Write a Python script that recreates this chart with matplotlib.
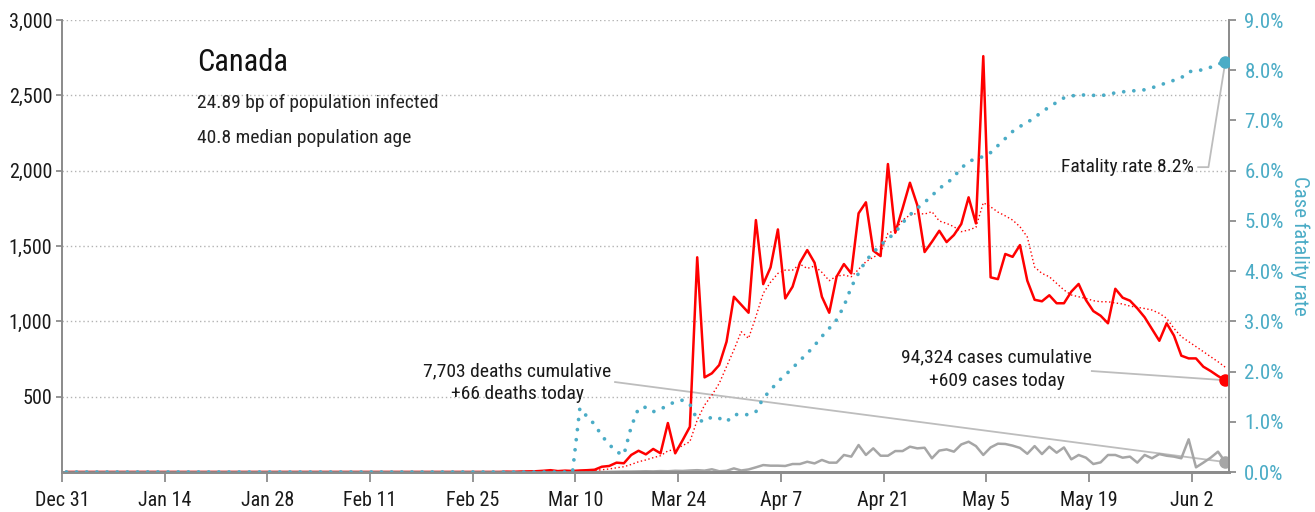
import matplotlib
matplotlib.use('Agg')
import matplotlib.pyplot as plt
from matplotlib import font_manager
import numpy as np

# ---- pick a condensed-ish font if we have one ----
names = set(font_manager.get_font_names())
FONT = 'DejaVu Sans'
for cand in ['Roboto Condensed', 'Liberation Sans Narrow', 'Open Sans Condensed',
             'Noto Sans Condensed', 'Roboto', 'Liberation Sans']:
    if cand in names:
        FONT = cand
        break
plt.rcParams['font.family'] = [FONT, 'DejaVu Sans']

# ---- data: one value per day, day 0 = Dec 31 ----
daily_cases = [0] * 60 + [2, 1, 3, 4, 5, 8, 12, 6, 9, 7] + [
    10, 12, 15, 35, 40, 62, 58, 113, 141, 117,            # d70-79
    153, 124, 325, 124, 210, 300, 1425, 628, 655, 710,    # d80-89
    865, 1163, 1110, 1057, 1672, 1247, 1358, 1610, 1152, 1230,   # d90-99
    1389, 1473, 1389, 1163, 1057, 1296, 1380, 1318, 1717, 1790,  # d100-109
    1469, 1433, 2044, 1588, 1750, 1920, 1772, 1460, 1528, 1601,  # d110-119
    1526, 1573, 1646, 1823, 1650, 2760, 1292, 1280, 1447, 1428,  # d120-129
    1506, 1270, 1143, 1133, 1173, 1120, 1120, 1197, 1248, 1141,  # d130-139
    1068, 1037, 987, 1216, 1157, 1137, 1086, 1027, 949, 871,     # d140-149
    987, 905, 772, 754, 754, 699, 670, 637, 609]                 # d150-158

cases_7day = [0] * 62 + [1, 1, 2, 2, 3, 4, 4, 5] + [
    5, 7, 10, 15, 20, 28, 35, 50, 68, 80,
    95, 108, 140, 150, 175, 201, 345, 444, 510, 588,
    700, 810, 931, 887, 1031, 1186, 1260, 1318, 1340, 1340,
    1380, 1351, 1367, 1325, 1270, 1300, 1307, 1296, 1345, 1396,
    1425, 1451, 1584, 1606, 1672, 1705, 1717, 1712, 1728, 1666,
    1650, 1628, 1595, 1606, 1624, 1787, 1760, 1725, 1700, 1672,
    1628, 1560, 1360, 1318, 1296, 1252, 1208, 1175, 1163, 1152,
    1137, 1130, 1130, 1122, 1115, 1101, 1093, 1085, 1075, 1053,
    1020, 953, 898, 865, 832, 799, 765, 732, 695]

daily_deaths = [0] * 70 + [
    1, 0, 1, 0, 1, 2, 3, 3, 4, 5,
    4, 6, 5, 8, 7, 10, 12, 9, 18, 5,
    8, 24, 10, 17, 31, 46, 42, 42, 40, 53,
    53, 68, 57, 80, 62, 62, 113, 102, 179, 113,
    157, 108, 108, 139, 139, 168, 157, 161, 91, 142,
    150, 135, 183, 201, 172, 113, 163, 188, 186, 175,
    160, 121, 172, 119, 168, 128, 163, 84, 113, 95,
    53, 64, 113, 113, 95, 102, 62, 113, 91, 119,
    108, 102, 91, 217, 31, 62, 95, 135, 66]

fatality_pct = [0] * 70 + [
    1.27, 1.10, 0.95, 0.72, 0.55, 0.40, 0.34, 0.90, 1.27, 1.29,
    1.20, 1.25, 1.33, 1.40, 1.43, 1.35, 1.04, 1.00, 1.10, 1.07,
    1.00, 1.14, 1.15, 1.14, 1.20, 1.47, 1.63, 1.80, 1.93, 2.07,
    2.22, 2.36, 2.52, 2.70, 2.86, 3.03, 3.30, 3.68, 3.96, 4.21,
    4.37, 4.52, 4.64, 4.77, 4.96, 5.12, 5.25, 5.37, 5.50, 5.65,
    5.74, 5.88, 6.05, 6.18, 6.24, 6.28, 6.36, 6.50, 6.64, 6.78,
    6.88, 6.96, 7.06, 7.17, 7.27, 7.36, 7.45, 7.49, 7.50, 7.51,
    7.50, 7.49, 7.52, 7.55, 7.57, 7.58, 7.60, 7.61, 7.65, 7.70,
    7.75, 7.80, 7.85, 7.97, 7.99, 8.01, 8.06, 8.12, 8.17]

tick_days = [0, 14, 28, 42, 56, 70, 84, 98, 112, 126, 140, 154]
tick_labels = ['Dec 31', 'Jan 14', 'Jan 28', 'Feb 11', 'Feb 25', 'Mar 10',
               'Mar 24', 'Apr 7', 'Apr 21', 'May 5', 'May 19', 'Jun 2']

country = 'Canada'
infected_bp = 24.89
median_age = 40.8
total_deaths = 7703
total_cases = 94324

RED = '#ff0000'
BLUE = '#4bacc6'
GREY = '#a6a6a6'
AXIS = '#8c8c8c'
LEADER = '#bdbdbd'

days = np.arange(len(daily_cases)) + 0.6   # points sit a little past the date tick

fig = plt.figure(figsize=(13.15, 5.12), dpi=100)
ax = fig.add_axes([62 / 1315, 40 / 512, 1167 / 1315, 452 / 512])
ax2 = ax.twinx()

ax.set_xlim(0, 159.1)
ax.set_ylim(0, 3000)
ax2.set_ylim(0, 9)

# gridlines
for yv in range(500, 3001, 500):
    ax.axhline(yv, color='#b3b3b3', lw=1, ls=(0, (1, 2)), zorder=0)

# series
ax.plot(days, daily_deaths, color=GREY, lw=1.8, zorder=2)
ax.plot(days, cases_7day, color=RED, lw=1.0, ls=(0, (1, 1.8)), zorder=3)
ax.plot(days, daily_cases, color=RED, lw=1.8, zorder=4)
ax2.plot(days, fatality_pct, color=BLUE, lw=2.7, ls=(0, (0.01, 2.7)),
         dash_capstyle='round', zorder=3)

# end dots
ax.plot(days[-1], daily_cases[-1], 'o', color=RED, ms=8, zorder=6)
ax.plot(days[-1], daily_deaths[-1], 'o', color=GREY, ms=8, zorder=6)
ax2.plot(days[-1], fatality_pct[-1], 'o', color=BLUE, ms=8, zorder=6)

# annotations
ax.text(62.1, 592, f'{total_deaths:,} deaths cumulative\n+{daily_deaths[-1]} deaths today',
        ha='center', va='center', fontsize=14, linespacing=1.35, color='#1a1a1a')
ax.plot([75.4, days[-1]], [597, daily_deaths[-1]], color=LEADER, lw=1.3, zorder=1)

ax.text(127.4, 682, f'{total_cases:,} cases cumulative\n+{daily_cases[-1]} cases today',
        ha='center', va='center', fontsize=14, linespacing=1.35, color='#1a1a1a')
ax.plot([140.4, days[-1]], [670, daily_cases[-1]], color=LEADER, lw=1.3, zorder=1)

ax2.text(154.3, 6.07, f'Fatality rate {fatality_pct[-1]:.1f}%', ha='right', va='center',
         fontsize=14, color='#1a1a1a')
ax2.plot([154.9, 156.3, days[-1]], [6.07, 6.07, fatality_pct[-1]],
         color=LEADER, lw=1.3, zorder=1)

# titles
ax.text(0.116, 0.905, country, transform=ax.transAxes, fontsize=22, va='center',
        color='#111111')
ax.text(0.116, 0.816, f'{infected_bp} bp of population infected', transform=ax.transAxes,
        fontsize=14, va='center', color='#222222')
ax.text(0.116, 0.739, f'{median_age} median population age', transform=ax.transAxes,
        fontsize=14, va='center', color='#222222')

# axes styling
ax.set_xticks(tick_days)
ax.set_xticklabels(tick_labels)
ax.set_yticks(range(500, 3001, 500))
ax.set_yticklabels([f'{v:,}' for v in range(500, 3001, 500)])
ax2.set_yticks(range(0, 10))
ax2.set_yticklabels([f'{v:.1f}%' for v in range(0, 10)])

for a in (ax, ax2):
    a.spines['top'].set_visible(False)
    a.spines['left'].set_color(AXIS)
    a.spines['right'].set_color(AXIS)
    a.spines['bottom'].set_color(AXIS)
    a.spines['bottom'].set_linewidth(2)
    a.spines['left'].set_linewidth(1.3)
    a.spines['right'].set_linewidth(1.3)

ax.tick_params(axis='x', length=7, width=1.3, color=AXIS, labelsize=14.5,
               labelcolor='#1a1a1a', pad=7)
ax.tick_params(axis='y', length=4, width=1.3, color=AXIS, labelsize=14.5,
               labelcolor='#1a1a1a', pad=3)
ax2.tick_params(axis='y', length=5, width=1.3, color=AXIS, labelsize=15,
                labelcolor=BLUE, pad=6)
ax2.set_ylabel('Case fatality rate', color=BLUE, fontsize=15, rotation=270, va='center')
ax2.yaxis.set_label_coords(1.061, 0.5)

fig.savefig('out.png', dpi=100)
